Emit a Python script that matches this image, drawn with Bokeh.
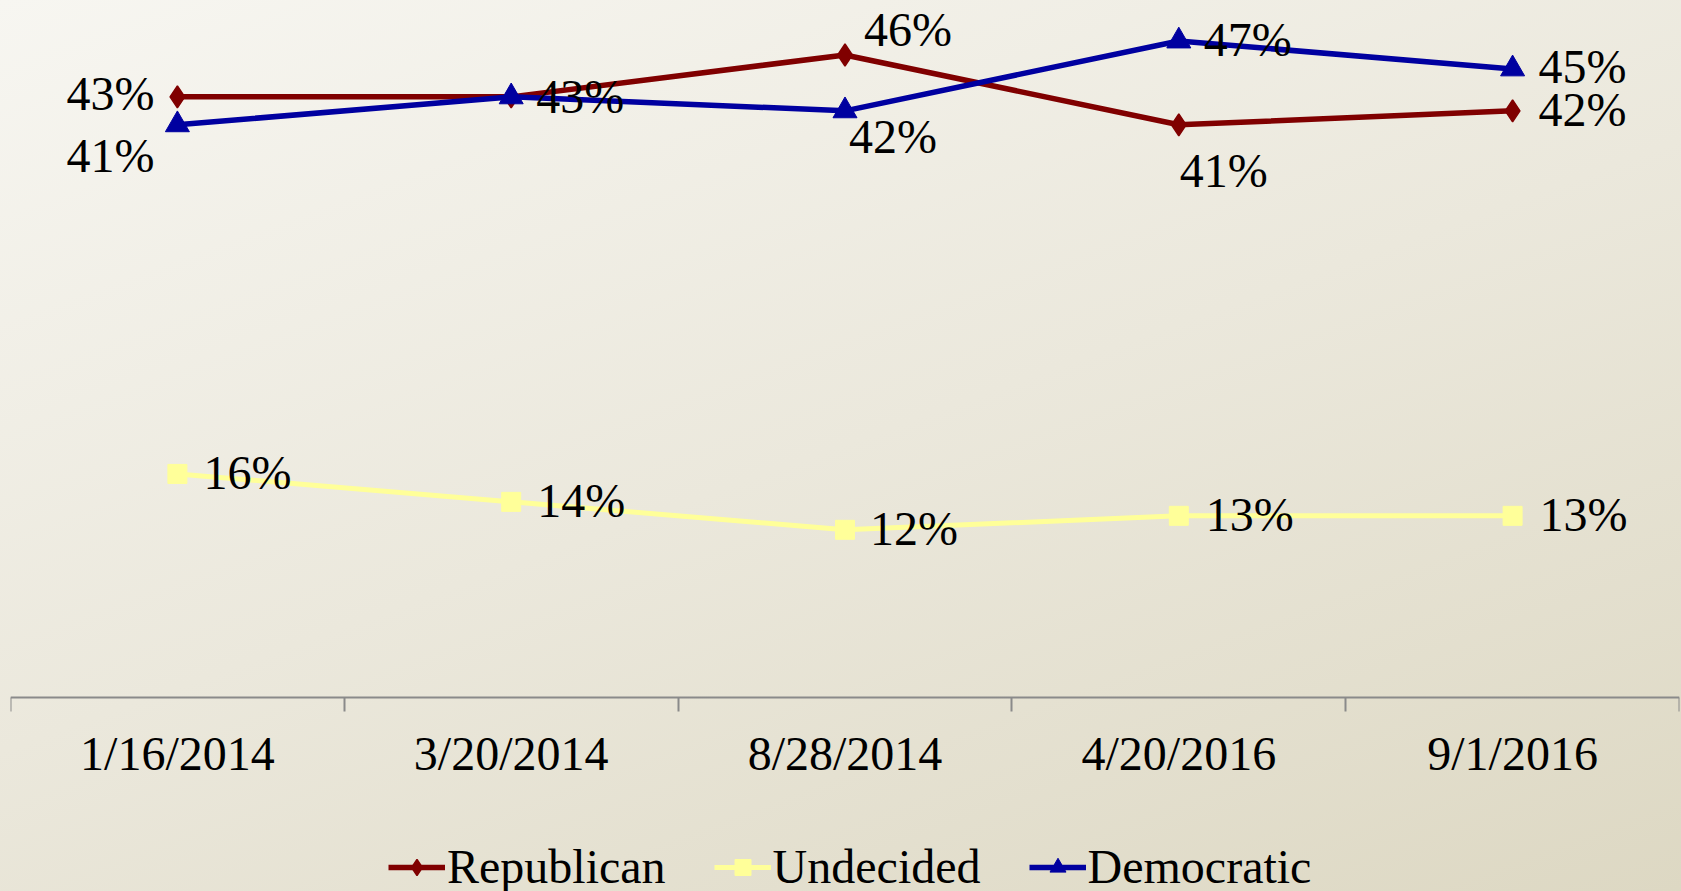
from bokeh.plotting import figure
from bokeh.models import FixedTicker, Legend, LegendItem, Range1d
from bokeh.core.properties import value
from bokeh.embed import file_html
from bokeh.resources import INLINE

dates = ["1/16/2014", "3/20/2014", "8/28/2014", "4/20/2016", "9/1/2016"]
republican = [43, 43, 46, 41, 42]
undecided = [16, 14, 12, 13, 13]
democratic = [41, 43, 42, 47, 45]

# label placement (screen px offsets, styles only)
rep_show = [True, False, True, True, True]
rep_dx = [-23, 25, 19, 1, 26]
rep_dy = [-3, 0, -25, 46, -1]
rep_align = ["right", "left", "left", "left", "left"]
dem_dx = [-23, 25, 4, 25, 26]
dem_dy = [31, 0, 26, -2, -2]
dem_align = ["right", "left", "left", "left", "left"]
und_dx = [26, 26, 25, 27, 27]
und_dy = [-1, -1, -1, -1, -1]

FONT = "Liberation Serif"
FS = "48px"

xs = [i + 0.5 for i in range(len(dates))]

p = figure(width=1681, height=891, output_backend="svg", toolbar_location=None,
           x_range=Range1d(0, len(dates)), y_range=Range1d(-13.9, 49.9),
           min_border_left=10, min_border_right=2, min_border_top=0, min_border_bottom=0)
p.background_fill_alpha = 0
p.border_fill_alpha = 0
p.outline_line_color = None
p.styles = {"background": "linear-gradient(160deg, #f7f6f1 0%, #ebe8dc 50%, #ddd8c3 100%)"}
p.grid.visible = False
p.yaxis.visible = False

ax = p.xaxis[0]
ax.fixed_location = 0
ax.ticker = FixedTicker(ticks=xs, minor_ticks=list(range(len(dates) + 1)))
ax.major_label_overrides = {x: d for x, d in zip(xs, dates)}
ax.major_tick_out = 0
ax.major_tick_in = 0
ax.minor_tick_out = 14
ax.minor_tick_in = 0
ax.minor_tick_line_color = "#8a8a8a"
ax.minor_tick_line_width = 2
ax.axis_line_color = "#8a8a8a"
ax.axis_line_width = 2
ax.major_label_text_font = FONT
ax.major_label_text_font_size = FS
ax.major_label_text_color = "black"
ax.major_label_standoff = 16

REP = "#800000"
UND = "#ffff99"
DEM = "#0000a0"

rl = p.line(xs, republican, line_color=REP, line_width=5.5)
rm = p.scatter(xs, republican, marker="diamond", size=22,
               fill_color=REP, line_color=REP, line_width=1.5)
ul = p.line(xs, undecided, line_color=UND, line_width=5)
um = p.scatter(xs, undecided, marker="square", size=19, fill_color=UND, line_color=UND)
dl = p.line(xs, democratic, line_color=DEM, line_width=5.5)
dm = p.scatter(xs, democratic, marker="triangle", size=24, fill_color=DEM, line_color=DEM)


def labels(vals, dx, dy, align, show):
    for x, v, ox, oy, a, s in zip(xs, vals, dx, dy, align, show):
        if not s:
            continue
        p.text([x], [v], text=[f"{v}%"], x_offset=ox, y_offset=oy, text_align=a,
               text_baseline="middle", text_font=value(FONT), text_font_size=FS,
               text_color="black")


labels(republican, rep_dx, rep_dy, rep_align, rep_show)
labels(democratic, dem_dx, dem_dy, dem_align, [True] * 5)
labels(undecided, und_dx, und_dy, ["left"] * 5, [True] * 5)

legend = Legend(items=[
    LegendItem(label="Republican", renderers=[rl, rm]),
    LegendItem(label="Undecided", renderers=[ul, um]),
    LegendItem(label="Democratic", renderers=[dl, dm]),
], orientation="horizontal", location=(378, -3))
legend.background_fill_alpha = 0
legend.border_line_color = None
legend.label_text_font = FONT
legend.label_text_font_size = FS
legend.label_text_color = "black"
legend.glyph_width = 57
legend.glyph_height = 40
legend.label_standoff = 2
legend.spacing = 48
legend.padding = 0
legend.margin = 0
p.add_layout(legend, "center")

open("out.html", "w").write(file_html(p, INLINE))
